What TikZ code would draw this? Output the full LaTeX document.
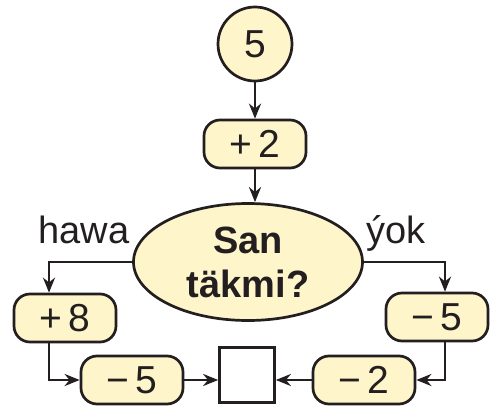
\documentclass[tikz,border=0pt]{standalone}
\usepackage{fontspec}
\setmainfont{Liberation Sans}
\usetikzlibrary{arrows.meta, shapes.geometric}
\definecolor{fillc}{RGB}{255,245,202}
\definecolor{linec}{RGB}{35,31,32}

\begin{document}
\begin{tikzpicture}[x=1pt, y=-1pt,
  op/.style={draw=linec, line width=2.7pt, fill=fillc, rounded corners=16pt,
             minimum width=102pt, minimum height=48pt, inner sep=0pt,
             text=linec, font=\fontsize{39}{40}\selectfont},
  arr/.style={-{Stealth[length=15pt, width=12pt]}, line width=2.5pt, draw=linec},
  lbl/.style={anchor=base, text=linec, font=\fontsize{38}{44}\selectfont}
]
\useasboundingbox (0,0) rectangle (491,407);

\node[circle, draw=linec, line width=2.7pt, fill=fillc, minimum size=74pt,
      inner sep=0pt, text=linec, font=\fontsize{39}{40}\selectfont] (start) at (255,44) {5};
\node[op] (p2) at (255,144) {+\,2};

\node[ellipse, draw=linec, line width=2.7pt, fill=fillc, minimum width=229pt,
      minimum height=117pt, inner sep=0pt, align=center, text=linec,
      font=\fontsize{38}{44}\selectfont\bfseries] (q) at (248,262) {San\\täkmi?};

\node[op] (p8)  at (65,318)  {+\,8};
\node[op] (m5a) at (132,380) {−\,5};
\node[op] (m5b) at (437,317) {−\,5};
\node[op] (m2)  at (364,380) {−\,2};

\node[draw=linec, line width=2.7pt, fill=white, minimum size=55pt,
      inner sep=0pt] (res) at (247,375) {};

\node[lbl] (yes) at (84,243) {hawa};
\node[lbl] (no)  at (396,243) {ýok};

\coordinate (lx) at (49,0);
\coordinate (rx) at (445,0);

\draw[arr] (start) -- (p2);
\draw[arr] (p2.south) -- (p2.south |- q.north);
\draw[arr] (q.west) -| (lx |- p8.north);
\draw[arr] (q.east) -| (rx |- m5b.north);
\draw[arr] (lx |- p8.south) |- (m5a.west);
\draw[arr] (rx |- m5b.south) |- (m2.east);
\draw[arr] (m5a.east) -- (m5a.east -| res.west);
\draw[arr] (m2.west) -- (m2.west -| res.east);
\end{tikzpicture}
\end{document}
